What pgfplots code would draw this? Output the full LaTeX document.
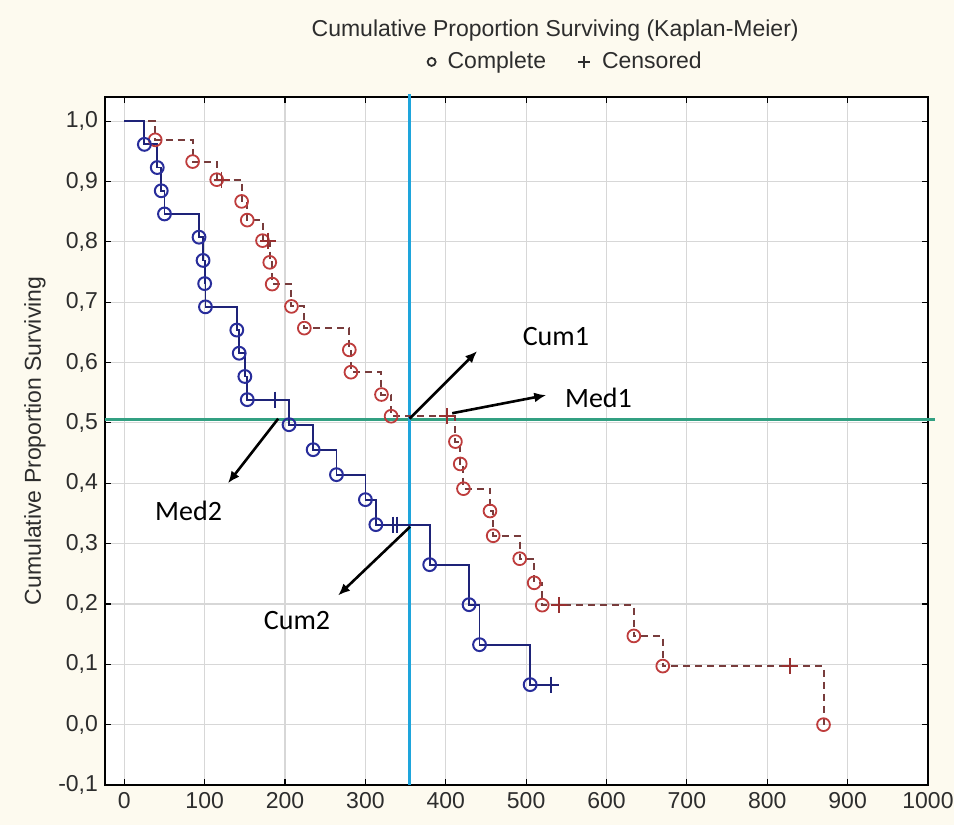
\documentclass[border=0pt]{standalone}
\usepackage{pgfplots}
\pgfplotsset{compat=1.18}
\usepackage{fontspec}
\setmainfont{Liberation Sans}
\newfontfamily\calib{Carlito}
\usetikzlibrary{arrows.meta}
\definecolor{bgcol}{RGB}{253,250,239}
\definecolor{blueline}{RGB}{30,35,120}
\definecolor{bluecirc}{RGB}{40,45,155}
\definecolor{redline}{RGB}{120,60,60}
\definecolor{redcirc}{RGB}{190,60,60}
\definecolor{cyanl}{RGB}{30,165,220}
\definecolor{greenl}{RGB}{50,160,130}
\definecolor{gridc}{RGB}{215,215,215}
\definecolor{txt}{RGB}{45,45,45}

\pgfplotstableread{
x y
0 1.0
25 0.9615
41 0.9231
46 0.8846
50 0.8462
93 0.8077
98 0.7692
100 0.7308
101 0.6923
140 0.6538
143 0.6154
150 0.5769
153 0.5385
205 0.4970
235 0.4556
264 0.4142
300 0.3728
313 0.3314
380 0.2651
429 0.1988
442 0.1325
505 0.0663
531 0.0663
}\bluestep

\pgfplotstableread{
x y
25 0.9615
41 0.9231
46 0.8846
50 0.8462
93 0.8077
98 0.7692
100 0.7308
101 0.6923
140 0.6538
143 0.6154
150 0.5769
153 0.5385
205 0.4970
235 0.4556
264 0.4142
300 0.3728
313 0.3314
380 0.2651
429 0.1988
442 0.1325
505 0.0663
}\bluecomp

\pgfplotstableread{
x y
188 0.5385
334 0.3314
339 0.3314
531 0.0663
}\bluecens

\pgfplotstableread{
x y
0 1.0
38.5 0.969
85 0.933
115 0.903
146 0.867
153 0.836
172 0.802
181 0.766
184 0.730
208 0.693
224 0.657
280 0.621
282 0.584
320 0.547
332 0.511
412 0.469
418 0.432
422 0.391
455 0.354
459 0.313
492 0.275
510 0.235
520 0.198
634 0.147
670 0.097
870 0.0
}\redstep

\pgfplotstableread{
x y
38.5 0.969
85 0.933
115 0.903
146 0.867
153 0.836
172 0.802
181 0.766
184 0.730
208 0.693
224 0.657
280 0.621
282 0.584
320 0.547
332 0.511
412 0.469
418 0.432
422 0.391
455 0.354
459 0.313
492 0.275
510 0.235
520 0.198
634 0.147
670 0.097
870 0.0
}\redcomp

\pgfplotstableread{
x y
121 0.903
179 0.802
402 0.511
541 0.198
828 0.097
}\redcens

\begin{document}
\begin{tikzpicture}
\fill[bgcol] (0,0) rectangle (477pt,412.5pt);
\useasboundingbox (0,0) rectangle (477pt,412.5pt);
\begin{axis}[
  at={(52.5pt,20pt)}, anchor=south west,
  width=411.5pt, height=344pt, scale only axis,
  xmin=-24, xmax=1000, ymin=-0.1, ymax=1.04,
  xtick={0,100,200,300,400,500,600,700,800,900,1000},
  ytick={-0.1,0,0.1,0.2,0.3,0.4,0.5,0.6,0.7,0.8,0.9,1.0},
  grid=major, grid style={gridc, line width=0.6pt},
  tick align=inside, major tick length=3pt,
  tick style={black, line width=0.6pt},
  axis line style={black, line width=0.8pt},
  axis background/.style={fill=white},
  clip=false,
  ticklabel style={font=\fontsize{11.5}{13}\selectfont, text=txt},
  /pgf/number format/assume math mode=true,
  xticklabel style={/pgf/number format/1000 sep={}},
  yticklabel style={/pgf/number format/.cd, fixed, fixed zerofill, precision=1, use comma},
  ylabel={Cumulative Proportion Surviving},
  ylabel style={at={(axis description cs:-0.085,0.5)}, anchor=center, rotate=0, font=\fontsize{11.5}{13}\selectfont, text=txt},
  legend style={at={(0.561,1.051)}, anchor=center, draw=none, fill=none,
    font=\fontsize{11.5}{13}\selectfont, text=txt,
    /tikz/every odd column/.append style={column sep=4pt},
    /tikz/every even column/.append style={column sep=14pt}},
  legend columns=2,
]
% reference lines
\addplot[forget plot, greenl, line width=1.6pt] coordinates {(-24,0.505) (1009,0.505)};
\addplot[forget plot, cyanl, line width=1.6pt] coordinates {(355,-0.1) (355,1.045)};

% red group (dashed)
\addplot[forget plot, const plot, redline, line width=1pt, dash pattern=on 3.5pt off 2.5pt] table[x=x,y=y] {\redstep};
\addplot[forget plot, only marks, mark=o, mark size=3.2pt, redcirc, line width=0.9pt, mark options={fill=red!12}] table[x=x,y=y] {\redcomp};
\addplot[forget plot, only marks, mark=+, mark size=4pt, redcirc!80!black, line width=0.9pt] table[x=x,y=y] {\redcens};

% blue group (solid)
\addplot[forget plot, const plot, blueline, line width=0.9pt] table[x=x,y=y] {\bluestep};
\addplot[forget plot, only marks, mark=o, mark size=3.2pt, bluecirc, line width=1pt, mark options={fill=blue!8}] table[x=x,y=y] {\bluecomp};
\addplot[forget plot, only marks, mark=+, mark size=4pt, blueline, line width=0.9pt] table[x=x,y=y] {\bluecens};

% annotation arrows
\addplot[forget plot, black, line width=1.3pt, -{Latex[length=6pt,width=5pt]}] coordinates {(355,0.507) (439,0.619)};
\addplot[forget plot, black, line width=1.3pt, -{Latex[length=6pt,width=5pt]}] coordinates {(408,0.516) (525,0.546)};
\addplot[forget plot, black, line width=1.3pt, -{Latex[length=6pt,width=5pt]}] coordinates {(191.5,0.507) (129,0.40)};
\addplot[forget plot, black, line width=1.3pt, -{Latex[length=6pt,width=5pt]}] coordinates {(355.7,0.328) (266,0.214)};

\node[font=\calib\fontsize{14}{16}\selectfont] at (axis cs:537,0.643) {Cum1};
\node[font=\calib\fontsize{14}{16}\selectfont] at (axis cs:590,0.541) {Med1};
\node[font=\calib\fontsize{14}{16}\selectfont] at (axis cs:80,0.355) {Med2};
\node[font=\calib\fontsize{14}{16}\selectfont] at (axis cs:215,0.172) {Cum2};

\node[font=\fontsize{11.5}{13}\selectfont, text=txt] at (rel axis cs:0.547,1.097) {Cumulative Proportion Surviving (Kaplan-Meier)};

\addlegendimage{only marks, mark=o, mark size=2pt, txt, line width=0.9pt}
\addlegendentry{Complete}
\addlegendimage{only marks, mark=+, mark size=3pt, txt, line width=0.8pt}
\addlegendentry{Censored}
\end{axis}
\end{tikzpicture}
\end{document}
